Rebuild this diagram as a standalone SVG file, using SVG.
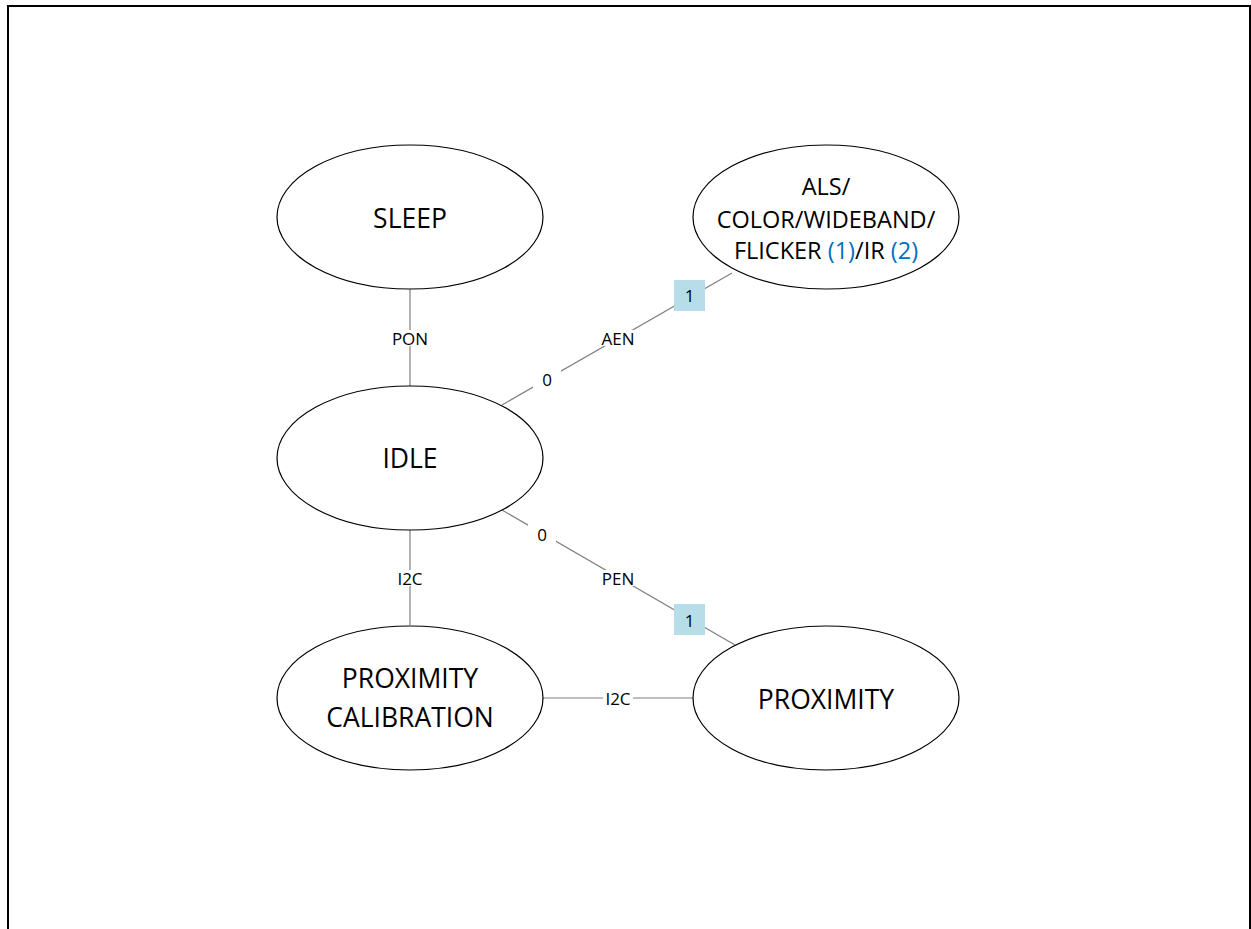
<svg xmlns="http://www.w3.org/2000/svg" width="1251" height="929" viewBox="0 0 1251 929">
<style>
.node ellipse{fill:#fff;stroke:#000;stroke-width:1.2}
.t{font-family:"Open Sans","Liberation Sans",sans-serif;font-size:26.5px;fill:#000;text-anchor:middle}
.ta{font-size:23.5px}
.ref{fill:#0070C0}
.edge line{stroke:#7f7f7f;stroke-width:1.2}
.lbl{font-family:"Open Sans","Liberation Sans",sans-serif;font-size:17px;fill:#000;text-anchor:middle}
.bg{fill:#fff}
.box{fill:#b7dde8}
</style>
<rect x="0" y="0" width="1251" height="929" fill="#fff"/>
<path d="M8,930 V6 H1250 V930" fill="none" stroke="#000" stroke-width="2"/>
<g id="connectors" class="edge">
  <line x1="410" y1="289" x2="410" y2="386"/>
  <line x1="410" y1="530" x2="410" y2="625"/>
  <line x1="543" y1="698" x2="693" y2="698"/>
  <line x1="502" y1="405" x2="732" y2="273"/>
  <line x1="502" y1="510" x2="735" y2="645"/>
  <rect class="bg" x="392" y="330" width="36" height="16"/>
  <text class="lbl" x="410" y="345">PON</text>
  <rect class="bg" x="395" y="570" width="30" height="16"/>
  <text class="lbl" x="410" y="585">I2C</text>
  <rect class="bg" x="603" y="690" width="30" height="16"/>
  <text class="lbl" x="618" y="705">I2C</text>
  <rect class="bg" x="533" y="369" width="28" height="20"/>
  <text class="lbl" x="547" y="386">0</text>
  <rect class="bg" x="601" y="330" width="34" height="16"/>
  <text class="lbl" x="618" y="345">AEN</text>
  <rect class="box" x="674" y="280" width="31" height="31"/>
  <text class="lbl" x="689.5" y="302">1</text>
  <rect class="bg" x="528" y="524" width="28" height="20"/>
  <text class="lbl" x="542" y="541">0</text>
  <rect class="bg" x="602" y="570" width="33" height="16"/>
  <text class="lbl" x="618" y="585">PEN</text>
  <rect class="box" x="674" y="604" width="31" height="31"/>
  <text class="lbl" x="689.5" y="627">1</text>
</g>
<g id="sleep" class="node">
  <ellipse cx="410" cy="217" rx="133" ry="72"/>
  <text class="t" x="410" y="228">SLEEP</text>
</g>
<g id="als" class="node">
  <ellipse cx="826" cy="217" rx="133" ry="72"/>
  <text class="t ta" x="826" y="195">ALS/</text>
  <text class="t ta" x="826" y="228">COLOR/WIDEBAND/</text>
  <text class="t ta" x="826" y="259">FLICKER <tspan class="ref">(1)</tspan>/IR <tspan class="ref">(2)</tspan></text>
</g>
<g id="idle" class="node">
  <ellipse cx="410" cy="458" rx="133" ry="72"/>
  <text class="t" x="410" y="468">IDLE</text>
</g>
<g id="proximity-calibration" class="node">
  <ellipse cx="410" cy="698" rx="133" ry="72"/>
  <text class="t" x="410" y="688">PROXIMITY</text>
  <text class="t" x="410" y="727">CALIBRATION</text>
</g>
<g id="proximity" class="node">
  <ellipse cx="826" cy="698" rx="133" ry="72"/>
  <text class="t" x="826" y="709">PROXIMITY</text>
</g>
</svg>
